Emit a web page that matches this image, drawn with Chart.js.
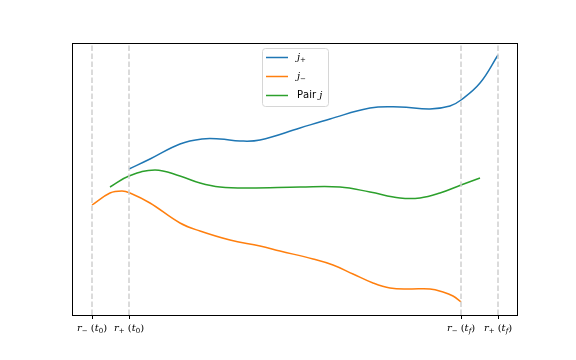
<!DOCTYPE html>
<html>
<head>
<meta charset="utf-8">
<script src="https://cdn.jsdelivr.net/npm/chart.js@4.4.1/dist/chart.umd.min.js"></script>
<style>
  html, body { margin: 0; padding: 0; background: #fff; }
  #wrap { width: 576px; height: 360px; }
</style>
</head>
<body>
<div id="wrap"><canvas id="mainChart"></canvas></div>
<script>
// ============================
// Data
// ============================
const tickValues = [0, 37, 369, 406];
const tickLabels = ["$r_−$ $(t_0)$", "$r_+$ $(t_0)$", "$r_−$ $(t_f)$", "$r_+$ $(t_f)$"];

const seriesLabels = ["$j_+$", "$j_−$", "Pair $j$"];
const seriesColors = ["#1f77b4", "#ff7f0e", "#2ca02c"];

const jPlusX = [37, 58, 88, 110, 128, 148, 168, 208, 238, 278, 308, 338, 358, 369, 388, 406];
const jPlusY = [146, 156, 171, 176, 176, 174, 175, 187, 196, 207, 208, 206, 209, 215, 232, 260];

const jMinusX = [0, 18, 30, 38, 58, 88, 108, 138, 168, 188, 221, 241, 261, 281, 298, 318, 338, 351, 361, 369];
const jMinusY = [110, 122, 124, 122, 112, 92, 84, 75, 69, 64, 56, 50, 41, 32, 27, 26, 26, 23, 19, 13];

const pairX = [18, 37, 63, 88, 108, 128, 158, 208, 248, 278, 308, 328, 348, 369, 388];
const pairY = [128, 139, 145, 139, 132, 128, 127, 128, 128, 123, 117, 117, 122, 130, 137];

const Y_MIN = 0, Y_MAX = 272;

function toPoints(xs, ys) {
  return xs.map((x, i) => ({ x, y: ys[i] }));
}

// ============================
// Tiny "mathtext" drawer: $..$ = italic serif, _x = subscript
// ============================
function parseRich(str) {
  const parts = [];
  let math = false;
  for (let i = 0; i < str.length; i++) {
    const c = str[i];
    if (c === "$") { math = !math; continue; }
    if (math && c === "_") {
      parts.push({ t: str[i + 1], math: true, sub: true });
      i++;
      continue;
    }
    parts.push({ t: c, math, sub: false });
  }
  return parts;
}

function partFont(p, size) {
  const s = p.sub ? Math.round(size * 0.7) : size;
  if (p.math) {
    const italic = /[a-z]/i.test(p.t) ? "italic " : "";
    return italic + s + "px 'DejaVu Serif'";
  }
  return s + "px 'DejaVu Sans'";
}

function drawRich(ctx, str, x, y, size, align) {
  const parts = parseRich(str);
  let width = 0;
  parts.forEach(p => { ctx.font = partFont(p, size); p.w = ctx.measureText(p.t).width; width += p.w; });
  let cx = align === "center" ? x - width / 2 : x;
  ctx.textBaseline = "middle";
  ctx.textAlign = "left";
  parts.forEach(p => {
    ctx.font = partFont(p, size);
    ctx.fillText(p.t, cx, p.sub ? y + size * 0.3 : y);
    cx += p.w;
  });
}

// ============================
// Plugins: frame, tick labels, legend
// ============================
const framePlugin = {
  id: "frame",
  afterDraw(chart) {
    const { ctx, chartArea } = chart;
    ctx.save();
    ctx.strokeStyle = "#000";
    ctx.lineWidth = 1;
    ctx.strokeRect(chartArea.left + 0.5, chartArea.top + 0.5,
      chartArea.right - chartArea.left - 1, chartArea.bottom - chartArea.top);
    ctx.restore();
  }
};

const tickLabelPlugin = {
  id: "tickLabels",
  afterDraw(chart) {
    const { ctx, chartArea } = chart;
    const xs = chart.scales.x;
    ctx.save();
    ctx.fillStyle = "#000";
    tickValues.forEach((v, i) => {
      drawRich(ctx, tickLabels[i], xs.getPixelForValue(v), chartArea.bottom + 13, 10, "center");
    });
    ctx.restore();
  }
};

const legendPlugin = {
  id: "boxLegend",
  afterDraw(chart) {
    const { ctx, chartArea } = chart;
    const w = 66, h = 58;
    const left = (chartArea.left + chartArea.right) / 2 - w / 2;
    const top = chartArea.top + 5;
    ctx.save();
    ctx.fillStyle = "rgba(255,255,255,0.8)";
    ctx.strokeStyle = "#d6d6d6";
    ctx.lineWidth = 1;
    ctx.beginPath();
    ctx.roundRect(left + 0.5, top + 0.5, w, h, 3);
    ctx.fill();
    ctx.stroke();
    seriesLabels.forEach((lab, i) => {
      const y = top + 9.5 + i * 19;
      ctx.strokeStyle = seriesColors[i];
      ctx.lineWidth = 1.5;
      ctx.beginPath();
      ctx.moveTo(left + 4, y);
      ctx.lineTo(left + 26, y);
      ctx.stroke();
      ctx.fillStyle = "#000";
      drawRich(ctx, lab, left + 35, y, 10, "left");
    });
    ctx.restore();
  }
};

// ============================
// Chart
// ============================
const guideSets = tickValues.map(v => ({
  data: [{ x: v, y: Y_MIN }, { x: v, y: Y_MAX }],
  borderColor: "#cfcfcf",
  borderWidth: 1.5,
  borderDash: [5.5, 2.5],
  pointRadius: 0,
  tension: 0
}));

function seriesSet(i, xs, ys) {
  return {
    data: toPoints(xs, ys),
    borderColor: seriesColors[i],
    borderWidth: 1.5,
    pointRadius: 0,
    tension: 0.4,
    fill: false
  };
}

const ctx = document.getElementById("mainChart").getContext("2d");
new Chart(ctx, {
  type: "line",
  data: {
    datasets: [
      ...guideSets,
      seriesSet(0, jPlusX, jPlusY),
      seriesSet(1, jMinusX, jMinusY),
      seriesSet(2, pairX, pairY)
    ]
  },
  options: {
    responsive: true,
    maintainAspectRatio: false,
    animation: false,
    layout: { padding: { left: 72, right: 58, top: 43, bottom: 0 } },
    plugins: {
      legend: { display: false },
      tooltip: { enabled: false }
    },
    scales: {
      x: {
        type: "linear",
        min: -20,
        max: 426,
        afterBuildTicks(axis) { axis.ticks = tickValues.map(v => ({ value: v })); },
        afterFit(axis) { axis.height = 45; },
        ticks: { display: false },
        grid: { drawOnChartArea: false, drawTicks: true, tickLength: 4, color: "#000" },
        border: { display: false }
      },
      y: {
        type: "linear",
        min: Y_MIN,
        max: Y_MAX,
        display: false
      }
    }
  },
  plugins: [framePlugin, tickLabelPlugin, legendPlugin]
});
</script>
</body>
</html>
